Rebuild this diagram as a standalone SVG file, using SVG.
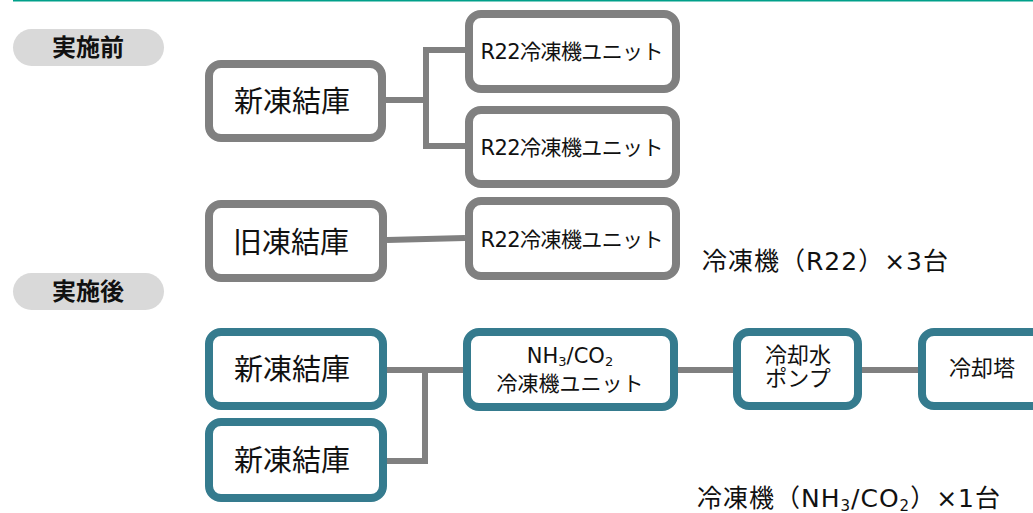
<svg xmlns="http://www.w3.org/2000/svg" width="1033" height="513" viewBox="0 0 1033 513">
<style>
text{font-family:"DejaVu Sans","Noto Sans CJK JP",sans-serif;fill:#111;}
.pill{fill:#d9d9d9;}
.pt{font-size:24px;font-weight:bold;text-anchor:middle;dominant-baseline:central;}
.g{fill:#fff;stroke:#808080;stroke-width:8;}
.t{fill:#fff;stroke:#357b8e;stroke-width:8;}
.big{font-size:29px;text-anchor:middle;dominant-baseline:central;}
.mid{font-size:21px;text-anchor:middle;dominant-baseline:central;}
.sm{font-size:21px;text-anchor:middle;}
.tw{font-size:22px;text-anchor:middle;}
.note{font-size:25px;}
.con{fill:none;stroke:#808080;stroke-width:6;}
</style>
<line x1="13" y1="0.5" x2="1033" y2="0.5" stroke="#00a08a" stroke-width="2"/>
<g id="label-before"><rect class="pill" x="13" y="29" width="151" height="37" rx="18.5"/><text class="pt" x="88" y="48">実施前</text></g>
<g id="label-after"><rect class="pill" x="13" y="273" width="151" height="37" rx="18.5"/><text class="pt" x="88" y="292">実施後</text></g>
<g id="connectors">
<path class="con" d="M386 100 H426 M465 50 H426 V146 H465"/>
<path class="con" d="M387 240 L465 238"/>
<path class="con" d="M387 370 H463 M387 461 H425 V370"/>
<path class="con" d="M678 370 H733 M862 370 H918"/>
</g>
<g id="new-freezer-before"><rect class="g" x="209" y="64" width="173" height="74" rx="12"/><text class="big" x="292" y="102">新凍結庫</text></g>
<g id="r22-unit-1"><rect class="g" x="469" y="14" width="207" height="75" rx="12"/><text class="mid" x="572" y="52" textLength="183">R22冷凍機ユニット</text></g>
<g id="r22-unit-2"><rect class="g" x="469" y="110" width="207" height="74" rx="12"/><text class="mid" x="572" y="148" textLength="183">R22冷凍機ユニット</text></g>
<g id="old-freezer"><rect class="g" x="209" y="204" width="174" height="74" rx="12"/><text class="big" x="291" y="243">旧凍結庫</text></g>
<g id="r22-unit-3"><rect class="g" x="469" y="201" width="207" height="75" rx="12"/><text class="mid" x="572" y="240" textLength="183">R22冷凍機ユニット</text></g>
<text class="note" x="702" y="270" textLength="246">冷凍機（R22）×3台</text>
<g id="new-freezer-1"><rect class="t" x="209" y="332" width="174" height="74" rx="12"/><text class="big" x="292" y="370">新凍結庫</text></g>
<g id="new-freezer-2"><rect class="t" x="209" y="422" width="174" height="76" rx="12"/><text class="big" x="292" y="461">新凍結庫</text></g>
<g id="nh3-co2-unit"><rect class="t" x="467" y="332" width="207" height="75" rx="12"/>
<text class="sm" x="570" y="363" font-size="22">NH<tspan font-size="13" dy="3">3</tspan><tspan dy="-3">/CO</tspan><tspan font-size="13" dy="3">2</tspan></text>
<text class="sm" x="570" y="391">冷凍機ユニット</text></g>
<g id="cooling-pump"><rect class="t" x="737" y="332" width="121" height="74" rx="12"/><text class="tw" x="798" y="363">冷却水</text><text class="tw" x="798" y="386">ポンプ</text></g>
<g id="cooling-tower"><rect class="t" x="922" y="332" width="130" height="74" rx="12"/><text class="tw" x="982" y="376">冷却塔</text></g>
<text class="note" x="697" y="507" textLength="303">冷凍機（NH<tspan font-size="15" dy="4">3</tspan><tspan dy="-4">/CO</tspan><tspan font-size="15" dy="4">2</tspan><tspan dy="-4">）×1台</tspan></text>
</svg>
